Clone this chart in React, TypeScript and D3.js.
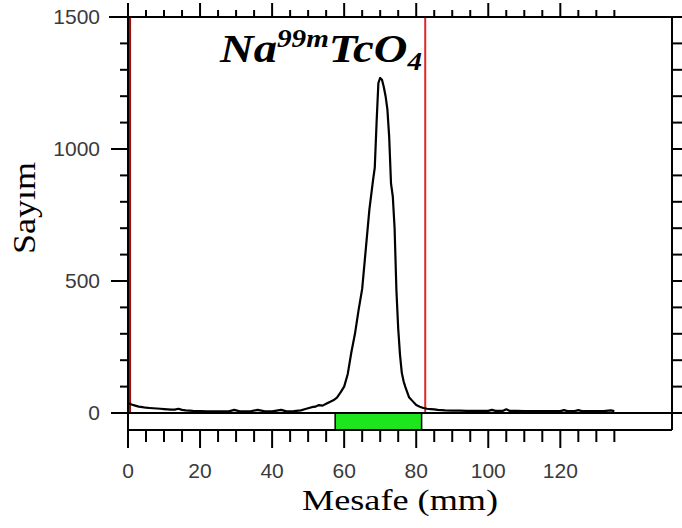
import React from "react";
import * as d3 from "d3";

const distanceMm = [0,1,2,3,4,5,6,7,8,9,10,11,12,13,14,15,16,18,20,22,24,26,28,29.5,31,34,36,38,40,42.5,44,46,48,49,50,51,52,53,54,55,56,57,58,59,60,61,62,63,64,65,66,67,68,68.5,69,69.5,70,70.5,71,71.5,72,72.5,73,73.5,74,74.5,75,75.5,76,76.5,77,78,79,80,81,82,83,84,85,86,88,90,92,94,96,98,100,101,102,104,105,106,108,110,112,114,116,118,120,121,122,124,125,126,128,130,132,134,135];
const counts = [38,32,28,24,22,20,19,18,17,16,15,14,13,13,16,12,10,8,7,6,6,6,6,12,6,6,12,6,6,12,6,7,10,14,18,22,24,30,28,35,42,48,58,78,100,148,230,300,390,470,620,770,880,930,1100,1250,1269,1262,1235,1200,1150,1045,870,820,700,466,320,220,152,120,98,60,45,30,24,19,16,15,14,12,10,9,9,8,8,8,8,12,8,8,14,8,8,7,7,7,7,7,7,11,7,7,11,7,7,7,7,10,7];

const yTickLabels = [0, 500, 1000, 1500];
const xTickLabels = [0, 20, 40, 60, 80, 100, 120];
const markerLinesMm = [0.5, 82.5];
const greenBandMm = [57.5, 81.5];

const W = 682, H = 528;
const L = 128, R = 672, T = 17, Y0 = 413, B = 430;

export default function App() {
  const x = d3.scaleLinear().domain([0, 151]).range([L, R]);
  const y = d3.scaleLinear().domain([0, 1500]).range([Y0, T]);
  const pts = distanceMm.map((d, i) => [d, counts[i]] as [number, number]);
  const line = d3.line<[number, number]>().x(d => x(d[0])).y(d => y(d[1]));
  const yTicks = d3.range(0, 1501, 100);
  const xTicks = d3.range(0, 136, 5);
  const lbl = { fontFamily: "Liberation Sans, Arial, sans-serif", fontSize: 21, fill: "#3a3a3a" };
  return (
    <svg width={W} height={H} style={{ display: "block", position: "absolute", left: 0, top: 0, background: "#fff" }}>
      <rect x={0} y={0} width={W} height={H} fill="#fff" />
      <rect x={x(greenBandMm[0])} y={Y0} width={x(greenBandMm[1]) - x(greenBandMm[0])} height={B - Y0} fill="#1ee61e" stroke="#000" strokeWidth={1.5} />
      <line x1={x(markerLinesMm[0])} x2={x(markerLinesMm[0])} y1={T} y2={Y0} stroke="#a00d0d" strokeWidth={2.5} />
      <line x1={x(markerLinesMm[1])} x2={x(markerLinesMm[1])} y1={T} y2={Y0} stroke="#e0282a" strokeWidth={2} />
      <path d={line(pts) || ""} fill="none" stroke="#000" strokeWidth={2.2} strokeLinejoin="round" />
      <g stroke="#000" strokeWidth={2}>
        <line x1={109} x2={W} y1={T} y2={T} />
        <line x1={111} x2={W} y1={Y0} y2={Y0} />
        <line x1={L} x2={L} y1={3} y2={448} />
        <line x1={R} x2={R} y1={T} y2={B} />
        <line x1={L} x2={R} y1={B} y2={B} />
        {yTicks.map(v => (
          <line key={"yl" + v} x1={v % 500 === 0 ? 111 : 120} x2={L} y1={y(v)} y2={y(v)} />
        ))}
        {yTicks.filter(v => v > 0 && v < 1500).map(v => (
          <line key={"yr" + v} x1={R} x2={W} y1={y(v)} y2={y(v)} />
        ))}
        {xTicks.map(v => (
          <line key={"xt" + v} x1={x(v)} x2={x(v)} y1={v % 20 === 0 ? 3 : 10} y2={T} />
        ))}
        {xTicks.map(v => (
          <line key={"xb" + v} x1={x(v)} x2={x(v)} y1={B} y2={v % 20 === 0 ? 448 : 442} />
        ))}
      </g>
      {yTickLabels.map(v => (
        <text key={"yy" + v} x={100} y={y(v) + 7} textAnchor="end" style={lbl}>{v}</text>
      ))}
      {xTickLabels.map(v => (
        <text key={"xx" + v} x={x(v)} y={478} textAnchor="middle" style={lbl}>{v}</text>
      ))}
      <text x={400} y={510} textAnchor="middle" textLength={196} lengthAdjust="spacingAndGlyphs"
        style={{ fontFamily: "Liberation Serif, Times New Roman, serif", fontSize: 30, fill: "#000" }}>Mesafe (mm)</text>
      <text transform={`translate(35,208) rotate(-90)`} textAnchor="middle" textLength={92} lengthAdjust="spacingAndGlyphs"
        style={{ fontFamily: "Liberation Serif, Times New Roman, serif", fontSize: 32, fill: "#000" }}>Sayım</text>
      <text x={321} y={62} textAnchor="middle" textLength={202} lengthAdjust="spacingAndGlyphs"
        style={{ fontFamily: "Liberation Serif, Times New Roman, serif", fontSize: 40, fontWeight: "bold", fontStyle: "italic", fill: "#000" }}>
        Na<tspan dy={-15} fontSize={25}>99m</tspan><tspan dy={15}>TcO</tspan><tspan dy={8} fontSize={25}>4</tspan>
      </text>
    </svg>
  );
}
